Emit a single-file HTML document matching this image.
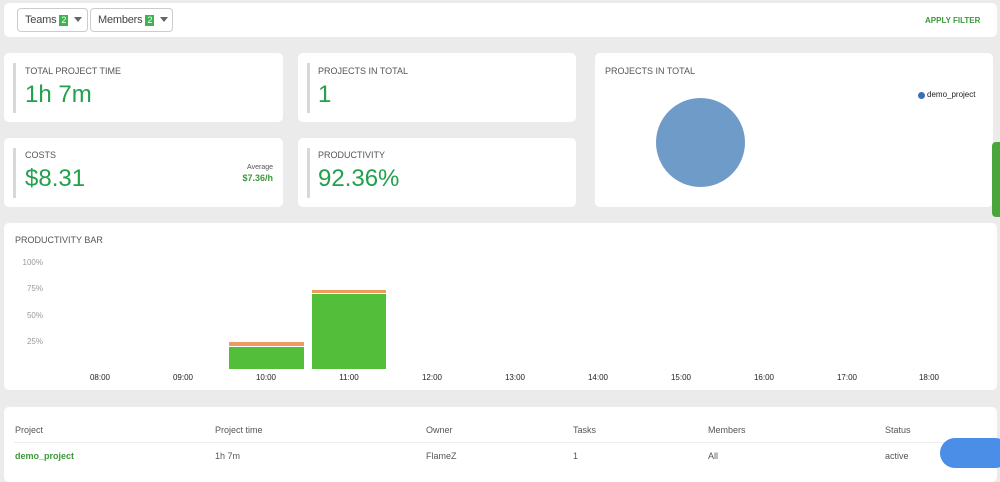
<!DOCTYPE html>
<html><head><style>
body{margin:0;width:1000px;height:477px;background:#ebebeb;font-family:"Liberation Sans",sans-serif;position:relative;overflow:hidden}
.c{position:absolute;background:#fff;border-radius:5px}
.lbl{position:absolute;font-size:9px;color:#555}
.big{position:absolute;font-size:24px;color:#22a04b}
.bar{position:absolute;left:9px;width:3px;background:#d8d8d8}
.dd{position:absolute;top:8px;height:24px;border:1px solid #ccc;border-radius:4px;font-size:11px;color:#444;line-height:22px;padding-left:7px;box-sizing:border-box;white-space:nowrap;letter-spacing:-0.2px}
.b{display:inline-block;background:#3fb34f;color:#fff;font-size:9px;line-height:11px;padding:0 2px;margin-left:3px}
.tri{display:inline-block;width:0;height:0;border-left:4px solid transparent;border-right:4px solid transparent;border-top:5px solid #666;margin-left:6px;vertical-align:1px}
.y{position:absolute;font-size:8px;color:#999;width:40px;text-align:right}
.x{position:absolute;top:373px;font-size:8px;color:#222;width:40px;text-align:center}
.t{position:absolute;font-size:9px;color:#555}
</style></head><body>
<div class="c" style="left:4px;top:3px;width:993px;height:34px"></div>
<div class="dd" style="left:17px;width:71px">Teams<span class="b">2</span><span class="tri"></span></div>
<div class="dd" style="left:90px;width:83px">Members<span class="b">2</span><span class="tri"></span></div>
<div style="position:absolute;left:925px;top:16px;font-size:8px;font-weight:bold;color:#3a9a3a">APPLY FILTER</div>

<div class="c" style="left:4px;top:53px;width:279px;height:69px"><div class="bar" style="top:10px;height:50px"></div><div class="lbl" style="left:21px;top:13px">TOTAL PROJECT TIME</div><div class="big" style="left:21px;top:28px">1h 7m</div></div>
<div class="c" style="left:298px;top:53px;width:278px;height:69px"><div class="bar" style="top:10px;height:50px"></div><div class="lbl" style="left:20px;top:13px">PROJECTS IN TOTAL</div><div class="big" style="left:20px;top:28px">1</div></div>
<div class="c" style="left:4px;top:138px;width:279px;height:69px"><div class="bar" style="top:10px;height:50px"></div><div class="lbl" style="left:21px;top:12px">COSTS</div><div class="big" style="left:21px;top:27px">$8.31</div><div style="position:absolute;right:10px;top:26px;font-size:7px;color:#555">Average</div><div style="position:absolute;right:10px;top:35px;font-size:9px;font-weight:bold;color:#3a9a3a">$7.36/h</div></div>
<div class="c" style="left:298px;top:138px;width:278px;height:69px"><div class="bar" style="top:10px;height:50px"></div><div class="lbl" style="left:20px;top:12px">PRODUCTIVITY</div><div class="big" style="left:20px;top:27px">92.36%</div></div>
<div class="c" style="left:595px;top:53px;width:398px;height:154px"><div class="lbl" style="left:10px;top:13px">PROJECTS IN TOTAL</div>
<div style="position:absolute;left:61px;top:45px;width:89px;height:89px;border-radius:50%;background:#6e9bc8"></div>
<div style="position:absolute;left:323px;top:39px;width:7px;height:7px;border-radius:50%;background:#3b6fb5"></div>
<div style="position:absolute;left:332px;top:37px;font-size:8px;color:#222">demo_project</div></div>
<div style="position:absolute;left:992px;top:142px;width:10px;height:75px;background:#4aa63c;border-radius:4px 0 0 4px"></div>

<div class="c" style="left:4px;top:223px;width:993px;height:167px"></div>
<div class="lbl" style="left:15px;top:235px">PRODUCTIVITY BAR</div>
<div class="y" style="left:3px;top:258px">100%</div>
<div class="y" style="left:3px;top:284px">75%</div>
<div class="y" style="left:3px;top:311px">50%</div>
<div class="y" style="left:3px;top:337px">25%</div>
<div style="position:absolute;left:229px;top:342px;width:75px;height:4px;background:#ef9a5e"></div>
<div style="position:absolute;left:229px;top:347px;width:75px;height:22px;background:#52be3a"></div>
<div style="position:absolute;left:312px;top:290px;width:74px;height:3px;background:#ef9a5e"></div>
<div style="position:absolute;left:312px;top:294px;width:74px;height:75px;background:#52be3a"></div>
<div class="x" style="left:80px">08:00</div><div class="x" style="left:163px">09:00</div><div class="x" style="left:246px">10:00</div><div class="x" style="left:329px">11:00</div><div class="x" style="left:412px">12:00</div><div class="x" style="left:495px">13:00</div><div class="x" style="left:578px">14:00</div><div class="x" style="left:661px">15:00</div><div class="x" style="left:744px">16:00</div><div class="x" style="left:827px">17:00</div><div class="x" style="left:909px">18:00</div>

<div class="c" style="left:4px;top:407px;width:993px;height:75px"></div>
<div class="t" style="left:15px;top:425px">Project</div><div class="t" style="left:215px;top:425px">Project time</div><div class="t" style="left:426px;top:425px">Owner</div><div class="t" style="left:573px;top:425px">Tasks</div><div class="t" style="left:708px;top:425px">Members</div><div class="t" style="left:885px;top:425px">Status</div>
<div style="position:absolute;left:14px;top:442px;width:975px;height:1px;background:#eee"></div>
<div class="t" style="left:15px;top:451px;color:#3a9a3a;font-weight:bold">demo_project</div><div class="t" style="left:215px;top:451px">1h 7m</div><div class="t" style="left:426px;top:451px">FlameZ</div><div class="t" style="left:573px;top:451px">1</div><div class="t" style="left:708px;top:451px">All</div><div class="t" style="left:885px;top:451px">active</div>
<div style="position:absolute;left:940px;top:438px;width:70px;height:30px;border-radius:15px;background:#4a8ee8"></div>
</body></html>
